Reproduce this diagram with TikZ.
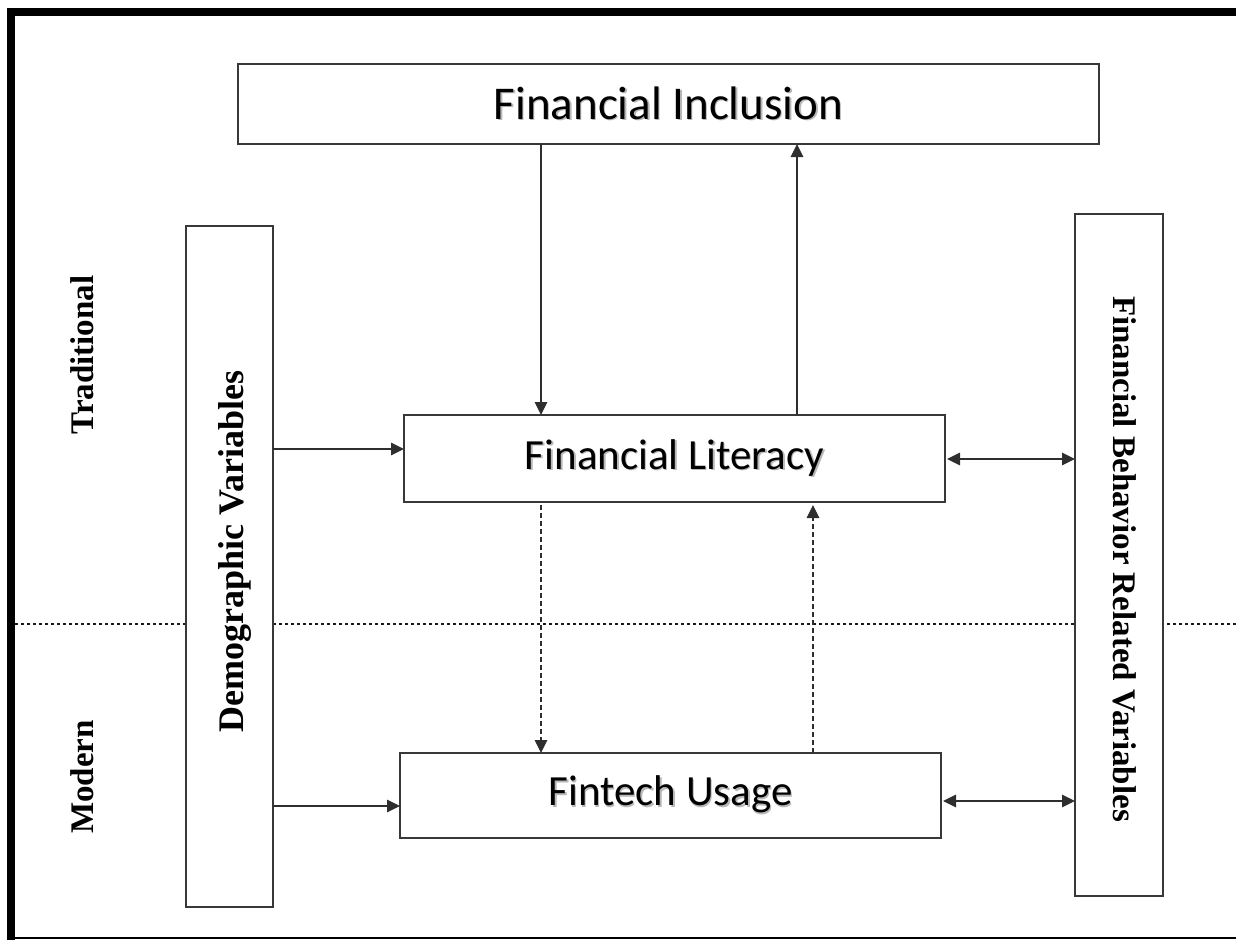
\documentclass[tikz,border=0pt]{standalone}
\usepackage{fontspec}
\setmainfont{Carlito}
\newfontfamily\serifbold{Liberation Serif}[BoldFont={Liberation Serif Bold}]
\usetikzlibrary{arrows.meta}

% soft grey copy behind the box captions
\newcommand\shadowed[1]{\makebox[0pt][l]{\hspace{1.6pt}\raisebox{-1.6pt}{\textcolor{black!28}{#1}}}#1}

\tikzset{
  box/.style={draw=black!78, line width=1.7pt, fill=white, inner sep=0pt, outer sep=0pt},
  caption/.style={font=\fontsize{43}{48}\selectfont},
  sidelabel/.style={font=\serifbold\bfseries\fontsize{33}{36}\selectfont, inner sep=0pt},
  tip/.tip={Triangle[length=13pt,width=12.5pt]},
  arr/.style={draw=black!82, line width=1.3pt, -tip},
  biarr/.style={draw=black!82, line width=1.4pt, tip-tip},
  dasharr/.style={arr, line width=1.1pt, dash pattern=on 5pt off 3pt},
  divider/.style={draw=black!90, line width=2.8pt, dash pattern=on 2.8pt off 3.2pt}
}

\begin{document}
\begin{tikzpicture}[x=1pt, y=-1pt]
\useasboundingbox (0,0) rectangle (1236,940);

% frame
\draw[line width=8pt, line join=miter] (11,940) -- (11,12) -- (1236,12);
\draw[line width=2.5pt] (15,938) -- (1236,938);

% traditional / modern divider
\draw[divider] (15,624) -- (1236,624);

% boxes
\node[box, minimum width=861pt, minimum height=80pt, caption, font=\fontsize{47}{52}\selectfont]
  (fi) at (668.5,104) {\shadowed{Financial Inclusion}};
\node[box, minimum width=541pt, minimum height=87pt, caption]
  (fl) at (674.5,458.5) {\shadowed{Financial Literacy}};
\node[box, minimum width=541pt, minimum height=85pt, caption]
  (fu) at (670.5,795.5) {\shadowed{Fintech Usage}};
\node[box, minimum width=87pt, minimum height=681pt] (dv) at (229.5,566.5) {};
\node[box, minimum width=88pt, minimum height=682pt] (fb) at (1119,555) {};

% vertical labels
\node[sidelabel, font=\serifbold\bfseries\fontsize{36}{40}\selectfont, rotate=90, anchor=base]
  (dvlabel) at (243,551.5) {Demographic Variables};
\node[sidelabel, rotate=-90, anchor=base] (fblabel) at (1113,559) {Financial Behavior Related Variables};
\node[sidelabel, rotate=90, anchor=base] (trad) at (93,355) {Traditional};
\node[sidelabel, rotate=90, anchor=base] (mod) at (93,777) {Modern};

% guide coordinates for connector positions
\coordinate (xa) at (541,0);
\coordinate (xb) at (797,0);
\coordinate (xc) at (813,0);
\coordinate (ya) at (0,449);
\coordinate (yb) at (0,806);
\coordinate (yc) at (0,459);
\coordinate (yd) at (0,801);

% solid connectors
\draw[arr] (fi.south -| xa) -- (fl.north -| xa);
\draw[arr] (fl.north -| xb) -- (fi.south -| xb);
\draw[arr] (dv.east |- ya) -- (fl.west |- ya);
\draw[arr] (dv.east |- yb) -- (fu.west |- yb);
\draw[biarr] ([xshift=2pt]fl.east |- yc) -- (fb.west |- yc);
\draw[biarr] ([xshift=2pt]fu.east |- yd) -- (fb.west |- yd);

% dashed connectors
\draw[dasharr] ([yshift=-3pt]fl.south -| xa) -- (fu.north -| xa);
\draw[dasharr] (fu.north -| xc) -- ([yshift=-3pt]fl.south -| xc);
\end{tikzpicture}
\end{document}
